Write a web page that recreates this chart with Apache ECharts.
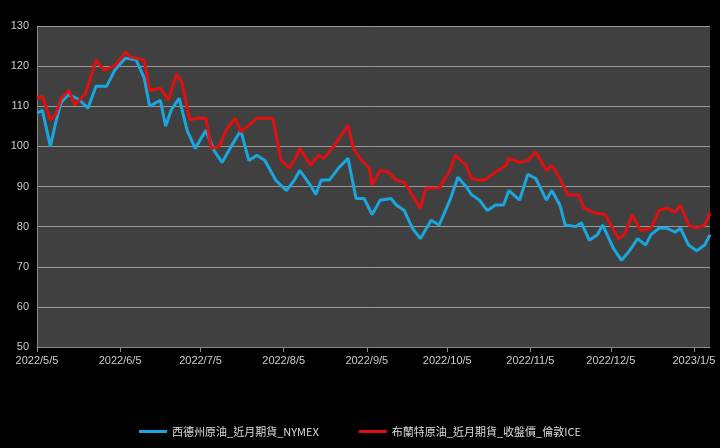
<!DOCTYPE html><html><head><meta charset="utf-8"><script src="https://cdn.jsdelivr.net/npm/echarts@6/dist/echarts.min.js"></script>
<style>html,body{margin:0;background:#000}#c{width:720px;height:448px}</style></head><body><div id="c"></div><script>
const wtiDays=[0,2,5,7,9,12,16,19,22,26,29,33,37,40,42,46,48,50,53,56,59,63,66,69,72,76,79,82,85,89,93,96,98,102,104,106,109,113,116,119,122,125,128,132,134,137,140,143,147,150,154,157,160,162,165,168,171,174,176,180,183,186,190,192,195,197,201,203,206,209,211,215,218,221,224,227,229,232,235,238,240,243,246,249,251];
const wtiVals=[108.3,109,100,106,111,113,111.5,109.5,115,115,119,122,121.5,117,110,111.5,105,109,112,104,99.5,104,99,96,99.5,104,96.5,97.8,96.5,91.6,89,91.6,94,90.3,88,91.6,91.6,95,97,87,87,83,86.6,87,85.4,84,79.6,77,81.6,80.4,86.6,92.3,90,88,86.6,84,85.4,85.4,89,86.6,93,92,86.6,89,85.4,80.4,80,81,76.6,78,80.4,74.6,71.6,74,77,75.4,78,79.6,79.6,78.6,79.6,75.4,74,75.4,78];
const brentDays=[0,2,5,7,9,12,14,18,22,25,29,33,35,40,42,46,49,52,54,57,60,63,65,68,71,74,76,79,82,85,88,91,94,96,98,102,105,107,111,116,118,121,124,125,128,131,134,137,140,143,145,150,154,156,160,162,165,167,171,175,176,180,183,186,190,192,195,198,202,204,208,212,214,217,219,222,225,229,232,235,238,240,243,246,249,251];
const brentVals=[112,112.5,106.6,108,112,114,110.3,113,121.5,119,120,123.5,122.3,121.5,114,114.5,111.5,118,116,106.6,107,107,99.5,100,104.6,107,103.6,105.3,107,107,107,96.6,94.6,96.6,99.5,95.3,97.8,97,100.3,105.3,99.5,96.6,94.6,90.3,94,93.6,91.6,91.1,87.9,84.6,89.6,89.6,94,97.8,95.3,92,91.6,91.6,93.6,95.3,97,96,96.5,98.6,94,95.3,92,87.9,87.9,84.6,83.4,83,80.4,77,78,83,79.1,79.6,84.1,84.6,83.6,85.4,80.4,79.6,80.4,83.4];
const tickDays=[0,31,61,92,123,153,184,214,245];
const tickLabels=['2022/5/5','2022/6/5','2022/7/5','2022/8/5','2022/9/5','2022/10/5','2022/11/5','2022/12/5','2023/1/5'];
const mk=(d,v)=>d.map((x,i)=>[x,v[i]]);
const c=echarts.init(document.getElementById('c'));
c.setOption({backgroundColor:'#000',animation:false,
grid:{left:37,right:10,top:26,bottom:101,show:true,backgroundColor:'#404040',borderWidth:0},
legend:{bottom:6,left:'center',itemGap:40,textStyle:{color:'#ddd',fontSize:11,fontFamily:'Noto Sans CJK TC'},icon:'rect',itemWidth:28,itemHeight:3,
 data:['西德州原油_近月期貨_NYMEX','布蘭特原油_近月期貨_收盤價_倫敦ICE']},
xAxis:{type:'value',min:0,max:251,
 axisLine:{show:true,lineStyle:{color:'#888'}},axisTick:{show:true,customValues:tickDays,lineStyle:{color:'#888'}},splitLine:{show:false},
 axisLabel:{customValues:tickDays,color:'#ccc',fontSize:11,formatter:v=>tickLabels[tickDays.indexOf(Math.round(v))]||''}},
yAxis:{type:'value',min:50,max:130,interval:10,axisLine:{show:true,lineStyle:{color:'#888'}},axisTick:{show:false},
 axisLabel:{color:'#ccc',fontSize:11},splitLine:{lineStyle:{color:'#999',width:1}}},
series:[
{name:'西德州原油_近月期貨_NYMEX',type:'line',showSymbol:false,data:mk(wtiDays,wtiVals),lineStyle:{color:'#1aa7df',width:3},itemStyle:{color:'#1aa7df'}},
{name:'布蘭特原油_近月期貨_收盤價_倫敦ICE',type:'line',showSymbol:false,data:mk(brentDays,brentVals),lineStyle:{color:'#e01010',width:3},itemStyle:{color:'#e01010'}}
]});
</script></body></html>
